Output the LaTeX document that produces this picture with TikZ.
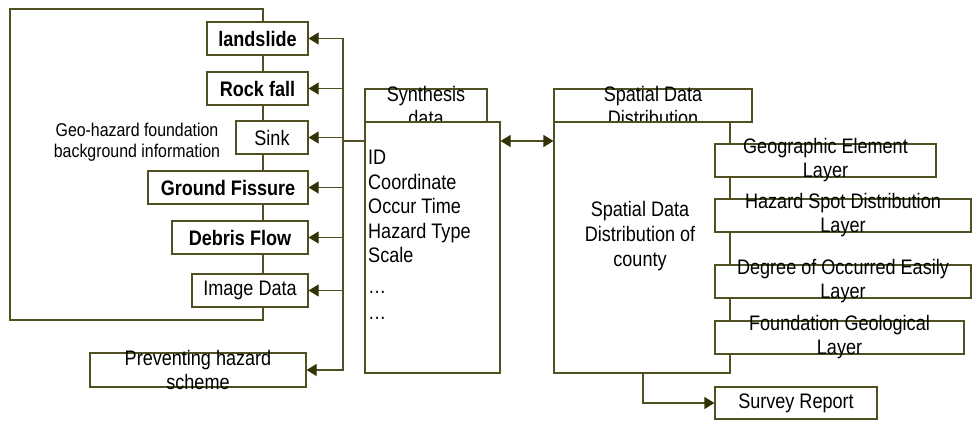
\documentclass[tikz,border=0pt]{standalone}
\usepackage{fontspec}
\setmainfont[FakeStretch=0.86]{Liberation Sans}
\usetikzlibrary{arrows.meta}
\definecolor{edgeol}{RGB}{80,80,35}
\definecolor{tipol}{RGB}{50,50,5}
\tikzset{
  box/.style={draw=edgeol, line width=1.2pt, fill=white, rectangle, inner sep=0pt,
              font=\fontsize{21}{24}\selectfont},
  lbl/.style={inner sep=0pt, align=center, font=\fontsize{21}{24}\selectfont},
  wire/.style={draw=edgeol, line width=1.2pt},
  arr/.style={wire, -{Triangle[length=10pt,width=12pt,fill=tipol,color=tipol]}},
  darr/.style={wire, {Triangle[length=10pt,width=12pt,fill=tipol,color=tipol]}-{Triangle[length=10pt,width=12pt,fill=tipol,color=tipol]}}
}
\begin{document}
\begin{tikzpicture}[x=1pt,y=-1pt]
\useasboundingbox (0,0) rectangle (972,421);

% outer frame of the background-information group
\draw[wire] (10,9) rectangle (263,320);
\node[lbl, font=\fontsize{18.5}{21}\selectfont] (geoinfo) at (137,142)
  {Geo-hazard foundation\\background information};

% hazard item boxes
\node[box, minimum width=101pt, minimum height=33pt, font=\fontsize{21}{24}\selectfont\bfseries] (landslide) at (257.5,38.5) {landslide};
\node[box, minimum width=101pt, minimum height=33pt, font=\fontsize{21}{24}\selectfont\bfseries] (rockfall) at (257.5,88.5) {Rock fall};
\node[box, minimum width=72pt, minimum height=33pt] (sink) at (272,137.5) {Sink};
\node[box, minimum width=160pt, minimum height=33pt, font=\fontsize{21}{24}\selectfont\bfseries] (fissure) at (228,187.5) {Ground Fissure};
\node[box, minimum width=136pt, minimum height=33pt, font=\fontsize{21}{24}\selectfont\bfseries] (debris) at (240,237.5) {Debris Flow};
\node[box, minimum width=116pt, minimum height=33pt] (image) at (250,290.5) {Image Data};
\node[box, minimum width=216pt, minimum height=34pt] (prevent) at (198,370) {};
\node[lbl] (prevent-t) at (prevent) {Preventing hazard\\scheme};

% synthesis data table
\node[box, minimum width=122pt, minimum height=33pt] (synhead) at (426,105.5) {};
\node[lbl] (synhead-t) at (426,106) {Synthesis\\data};
\node[box, minimum width=135pt, minimum height=251pt] (synmain) at (432.5,247.5) {};
\node[lbl, align=left, anchor=north west, font=\fontsize{21}{24.5}\selectfont] (synlist) at (368,150)
  {ID\\Coordinate\\Occur Time\\Hazard Type\\Scale\\[6pt]…\\[2pt]…};

% spatial data distribution table
\node[box, minimum width=198pt, minimum height=33pt] (sphead) at (653,105.5) {};
\node[lbl] (sphead-t) at (653,106) {Spatial Data\\Distribution};
\node[box, minimum width=176pt, minimum height=251pt] (spmain) at (642,247.5) {};
\node[lbl, font=\fontsize{21}{25}\selectfont] (spmain-t) at (640,236)
  {Spatial Data\\Distribution of\\county};

% layer boxes
\node[box, minimum width=221pt, minimum height=33pt] (geolayer) at (825.5,160.5) {};
\node[lbl] (geolayer-t) at (geolayer) {Geographic Element\\Layer};
\node[box, minimum width=256pt, minimum height=33pt] (spotlayer) at (843,215.5) {};
\node[lbl] (spotlayer-t) at (spotlayer) {Hazard Spot Distribution\\Layer};
\node[box, minimum width=256pt, minimum height=33pt] (easylayer) at (843,281.5) {};
\node[lbl] (easylayer-t) at (easylayer) {Degree of Occurred Easily\\Layer};
\node[box, minimum width=249pt, minimum height=33pt] (foundlayer) at (839.5,337.5) {};
\node[lbl] (foundlayer-t) at (foundlayer) {Foundation Geological\\Layer};
\node[box, minimum width=162pt, minimum height=32pt] (survey) at (796,403) {Survey Report};

% connectors
\coordinate (hub) at (343,141);
\draw[wire] (synmain.west |- hub) -- (hub);
\foreach \t in {landslide,rockfall,sink,fissure,debris,image,prevent}
  \draw[arr] (hub) |- (\t.east);
\draw[darr] (synmain.east |- hub) -- (spmain.west |- hub);
\coordinate (spfoot) at (643,373);
\draw[arr] (spfoot) |- (survey.west);
\end{tikzpicture}
\end{document}
